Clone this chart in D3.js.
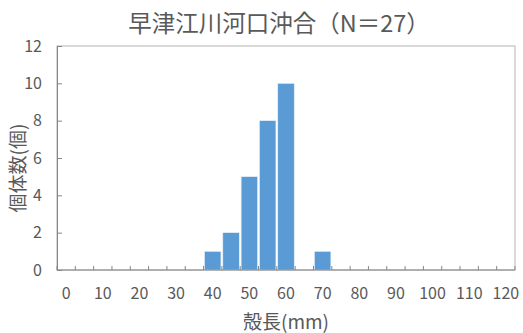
<!DOCTYPE html>
<html><head><meta charset="utf-8">
<script src="https://cdn.jsdelivr.net/npm/d3@7"></script>
<style>body{margin:0;background:#fff}text{font-family:"Noto Sans CJK JP","Noto Sans",sans-serif;fill:#595959}</style>
</head><body><svg id="c" width="523" height="333"></svg>
<script>
const titleText = "早津江川河口沖合（N＝27）";
const xTitle = "殻長(mm)";
const yTitle = "個体数(個)";
const categories = [0,5,10,15,20,25,30,35,40,45,50,55,60,65,70,75,80,85,90,95,100,105,110,115,120];
const counts =     [0,0,0,0,0,0,0,0,1,2,5,8,10,0,1,0,0,0,0,0,0,0,0,0,0];
const yTicks = [0,2,4,6,8,10,12];
const xLabels = [0,10,20,30,40,50,60,70,80,90,100,110,120];

const svg = d3.select("#c");
const L=57, R=515, T=46, B=270;
const x = d3.scaleBand().domain(categories).range([L,R]).paddingInner(0.1).paddingOuter(0.05);
const xb = d3.scaleBand().domain(categories).range([L,R]);
const y = d3.scaleLinear().domain([0,12]).range([B,T]);

// plot border
svg.append("rect").attr("x",L).attr("y",T).attr("width",R-L).attr("height",B-T)
  .attr("fill","none").attr("stroke","#b4b4b4").attr("stroke-width",1);

// bars
svg.append("g").selectAll("rect").data(categories.map((c,i)=>({c,v:counts[i]})).filter(d=>d.v>0))
  .join("rect")
  .attr("x",d=>x(d.c)).attr("width",x.bandwidth())
  .attr("y",d=>y(d.v)).attr("height",d=>B-y(d.v))
  .attr("fill","#5B9BD5").attr("stroke","#e8f0fa").attr("stroke-width",0.6);

// y axis
const ya = svg.append("g").attr("transform",`translate(${L},0)`)
  .call(d3.axisLeft(y).tickValues(yTicks).tickSizeInner(-5).tickSizeOuter(0).tickPadding(15));
ya.select(".domain").attr("stroke","#868686");
ya.selectAll(".tick line").attr("stroke","#868686");
ya.selectAll("text").style("font-size","16px").attr("fill","#595959").style("font-family","'Noto Sans CJK JP',sans-serif");

// x axis
const xa = svg.append("g").attr("transform",`translate(0,${B})`);
xa.append("line").attr("x1",L).attr("x2",R).attr("y1",0).attr("y2",0).attr("stroke","#868686");
xa.selectAll("line.t").data(d3.range(categories.length+1)).join("line").attr("class","t")
  .attr("x1",i=>L+i*xb.step()).attr("x2",i=>L+i*xb.step()).attr("y1",0).attr("y2",-4).attr("stroke","#868686");
xa.selectAll("text").data(xLabels).join("text")
  .attr("x",d=>xb(d)+xb.bandwidth()/2).attr("y",28.5).attr("text-anchor","middle")
  .style("font-size","16px").text(d=>d);

// titles
svg.append("text").attr("x",279).attr("y",32).attr("text-anchor","middle").style("font-size","23.5px").text(titleText);
svg.append("text").attr("x",286).attr("y",329).attr("text-anchor","middle").style("font-size","19px").text(xTitle);
svg.append("text").attr("transform","translate(25,168) rotate(-90)").attr("text-anchor","middle").style("font-size","19px").text(yTitle);
</script></body></html>
